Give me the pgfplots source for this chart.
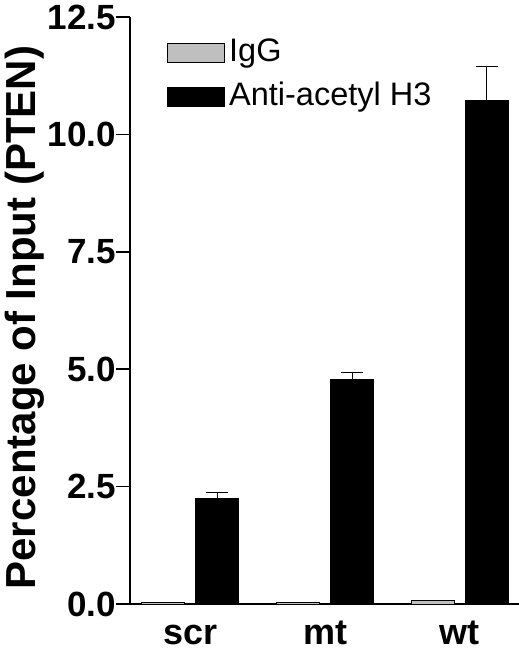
\documentclass[border=0pt]{standalone}
\usepackage{fontspec}
\setmainfont{Liberation Sans}
\usepackage{pgfplots}
\pgfplotsset{compat=1.18}

\begin{document}
\begin{tikzpicture}
\begin{axis}[
    scale only axis,
    width=389bp, height=587bp,
    ybar=11bp,
    bar width=43bp,
    xmin=-0.449, xmax=2.438,
    ymin=0, ymax=12.5,
    axis lines*=left,
    axis line style={line width=1.5bp, black},
    xtick={0,1,2},
    xticklabels={scr,mt,wt},
    xtick style={draw=none},
    x tick label style={font=\fontsize{36bp}{40bp}\selectfont\bfseries, anchor=base, inner sep=0pt, yshift=-26bp},
    ytick={0,2.5,5,7.5,10,12.5},
    yticklabel={\pgfmathprintnumber[fixed,fixed zerofill,precision=1]{\tick}},
    /pgf/number format/assume math mode=true,
    y tick label style={font=\fontsize{35bp}{40bp}\selectfont\bfseries, anchor=east, inner sep=0pt},
    tick align=outside,
    major tick length=14bp,
    ytick style={line width=1.5bp, black},
    ylabel={Percentage of Input (PTEN)},
    ylabel style={font=\fontsize{42bp}{46bp}\selectfont\bfseries, at={(axis description cs:-0.244,0.488)}, anchor=base, inner sep=0pt},
    legend style={at={(axis description cs:0.095,0.961)}, anchor=north west, draw=none, fill=none,
        font=\fontsize{32.5bp}{36bp}\selectfont, inner sep=0pt, column sep=4bp, row sep=18bp,
        nodes={inner sep=0pt, text height=21bp, text depth=5bp}},
    legend image code/.code={\draw[#1, line width=1bp] (0bp,-9.5bp) rectangle (57bp,9.5bp);},
    legend cell align=left,
]
% IgG
\addplot[fill=black!25, draw=black, line width=1bp]
  coordinates {(0,0.03) (1,0.04) (2,0.08)};
\addlegendentry{IgG}
% Anti-acetyl H3
\addplot[fill=black, draw=black, line width=1bp,
    error bars/.cd, y dir=plus, y explicit,
    error bar style={line width=1bp, black},
    error mark options={rotate=90, mark size=11bp, line width=1bp, black}]
  coordinates {
    (0,2.25) +- (0,0.12)
    (1,4.79) +- (0,0.15)
    (2,10.72) +- (0,0.73)
  };
\addlegendentry{Anti-acetyl H3}
\end{axis}
\pgfresetboundingbox
\path[use as bounding box] ([shift={(-130bp,-52bp)}]current axis.south west) rectangle ([shift={(0bp,17bp)}]current axis.north east);
\end{tikzpicture}
\end{document}
